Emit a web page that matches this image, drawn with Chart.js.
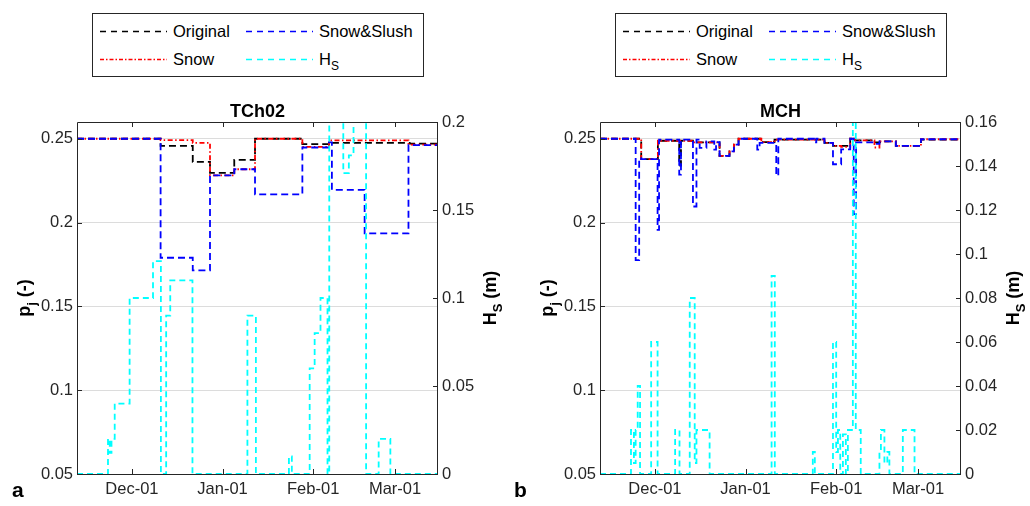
<!DOCTYPE html>
<html>
<head>
<meta charset="utf-8">
<script src="https://cdn.jsdelivr.net/npm/chart.js@4.4.1/dist/chart.umd.min.js"></script>
<style>
  body { margin: 0; background: #fff; font-family: "Liberation Sans", Arial, sans-serif; }
  #wrap { position: relative; width: 1030px; height: 506px; overflow: hidden; background: #fff; }
  .panel { position: absolute; top: 0; }
  .legend { position: absolute; top: 13px; width: 332px; height: 64px; border: 1px solid #262626;
            box-sizing: border-box; background: #fff; font-size: 16.5px; color: #000; }
  .item { position: absolute; height: 20px; line-height: 20px; }
  .item svg { position: absolute; left: 0; top: 0; }
  .item span { position: absolute; left: 73px; top: 0; white-space: nowrap; }
  .item sub { font-size: 12px; vertical-align: -5px; line-height: 0; }
  .tag { position: absolute; top: 478px; font-weight: bold; font-size: 21px; color: #000; }
</style>
</head>
<body>
<div id="wrap">
  <canvas id="chartTCh02" class="panel" width="515" height="506" style="left:0"></canvas>
  <canvas id="chartMCH" class="panel" width="515" height="506" style="left:515px"></canvas>
  <div id="legendTCh02" class="legend" style="left:92px"></div>
  <div id="legendMCH" class="legend" style="left:615px"></div>
  <div class="tag" style="left:12px">a</div>
  <div class="tag" style="left:514px">b</div>
</div>
<script>
const FONT = '"Liberation Sans", Arial, sans-serif';

// x axis: days since 1 Dec
const xMin = -18.8;
const xMax = 104.7;
const monthTickDays = [0, 31, 62, 90];
const monthTickLabels = ["Dec-01", "Jan-01", "Feb-01", "Mar-01"];

const pjTicks = [0.05, 0.1, 0.15, 0.2, 0.25];
const tchHsTicks = [0, 0.05, 0.1, 0.15, 0.2];
const mchHsTicks = [0, 0.02, 0.04, 0.06, 0.08, 0.1, 0.12, 0.14, 0.16];

// [day, value] step points, value holds from that day on
const tch02Original = [[-18.8, 0.25], [9.8, 0.2458], [20.8, 0.2362], [26.7, 0.2296], [35, 0.2374],
  [42.1, 0.25], [58.3, 0.2468], [67.4, 0.2476], [95, 0.2471], [104.7, 0.2471]];
const tch02Snow = [[-18.8, 0.25], [9.8, 0.2492], [20.8, 0.2476], [26.7, 0.2282], [35, 0.2318],
  [42.1, 0.25], [58.3, 0.2452], [67.4, 0.249], [94.6, 0.2465], [104.7, 0.2465]];
const tch02SnowSlush = [[-18.8, 0.25], [9.8, 0.179], [20.8, 0.1715], [26.7, 0.2282], [35, 0.2318],
  [42.1, 0.2168], [58.3, 0.2448], [67.4, 0.2478], [68.4, 0.2195], [79.6, 0.1935], [94.6, 0.2462],
  [104.7, 0.2462]];
const tch02Hs = [[-18.8, 0], [-8.2, 0.02], [-7.6, 0.012], [-7.0, 0.02], [-5.9, 0.04], [-0.8, 0.1],
  [7.2, 0.121], [9.9, 0], [11.7, 0.09], [13.1, 0.11], [20.7, 0], [39.5, 0.09], [42.4, 0],
  [53.7, 0.01], [54.7, 0], [60.8, 0.06], [62.5, 0.08], [64.5, 0.1], [66.9, 0], [67.5, 0.21],
  [69.5, 0.2], [72.3, 0.171], [74.2, 0.181], [75.8, 0.21], [80.1, 0], [84.4, 0.02], [88.4, 0],
  [104.7, 0]];

const mchOriginal = [[-18.8, 0.25], [-4.7, 0.2378], [1.0, 0.2488], [8.3, 0.2340], [8.9, 0.2488],
  [13, 0.2478], [22.1, 0.2398], [25.5, 0.2425], [27, 0.2465], [28.6, 0.25], [36.4, 0.248],
  [40.9, 0.2495], [58, 0.2475], [60.9, 0.2458], [66.8, 0.25], [68.5, 0.249], [75.1, 0.2478],
  [77, 0.2485], [82.4, 0.2458], [91, 0.2495], [104.7, 0.2495]];
const mchSnow = [[-18.8, 0.25], [-4.7, 0.2378], [1.0, 0.2488], [13, 0.2478], [22.1, 0.2398],
  [25.5, 0.2425], [27, 0.2465], [28.6, 0.25], [36.4, 0.248], [40.9, 0.2495], [58, 0.2475],
  [60.9, 0.2458], [63.7, 0.2452], [66.8, 0.25], [68.5, 0.249], [75.1, 0.2448], [76.8, 0.2485],
  [82.4, 0.2458], [91, 0.2497], [104.7, 0.2497]];
const mchSnowSlush = [[-18.8, 0.25], [-6.6, 0.1776], [-5.4, 0.2385], [-4.7, 0.2378], [0.9, 0.1956],
  [1.4, 0.2495], [8.3, 0.2286], [8.9, 0.2495], [13.0, 0.2096], [14.2, 0.2495], [15.3, 0.2446],
  [17.6, 0.2485], [20.3, 0.2435], [20.9, 0.248], [22.1, 0.2398], [25.5, 0.2425], [27, 0.2465],
  [28.6, 0.25], [35.0, 0.2435], [35.8, 0.2475], [41.5, 0.228], [42.2, 0.25], [54.4, 0.2478],
  [55.2, 0.25], [58, 0.2475], [60.9, 0.2348], [63.7, 0.2437], [66.8, 0.25], [68.0, 0.205],
  [68.8, 0.2478], [75.1, 0.247], [76.8, 0.2485], [82.4, 0.2458], [91, 0.2497], [104.7, 0.2497]];
const mchHs = [[-18.8, 0], [-8.2, 0.02], [-7.2, 0.005], [-6.6, 0.02], [-5.9, 0.04], [-5.1, 0],
  [-1.3, 0.06], [0.9, 0], [6.9, 0.02], [8.4, 0], [11.9, 0.08], [13.6, 0.005], [14.2, 0.02],
  [18.7, 0], [39.9, 0.09], [41.0, 0], [54.0, 0.01], [54.7, 0], [60.9, 0.06], [62.0, 0.01],
  [62.6, 0.02], [63.4, 0], [64.3, 0.018], [65.3, 0], [66.0, 0.02], [67.7, 0.165], [68.7, 0.02],
  [70.4, 0], [76.8, 0.01], [77.3, 0.02], [78.5, 0.005], [79.5, 0.01], [80.2, 0], [84.8, 0.02],
  [88.8, 0], [104.7, 0]];

const seriesNames = ["Original", "Snow&Slush", "Snow", "H_S"];
const seriesColors = ["#000000", "#0000ff", "#ff0000", "#00ffff"];
const seriesDash = [[7, 4], [7, 4], [5, 2.5, 1.5, 2.5], [6, 4]];

const toXY = pts => pts.map(p => ({ x: p[0], y: p[1] }));
const fmt = v => String(Number(v.toFixed(3)));

function drawRotLabel(ctx, cx, cy, base, sub, rest, size) {
  ctx.save();
  ctx.translate(cx, cy);
  ctx.rotate(-Math.PI / 2);
  const big = `bold ${size}px ${FONT}`;
  const small = `bold ${Math.round(size * 0.72)}px ${FONT}`;
  ctx.font = big;
  const w1 = ctx.measureText(base).width;
  const w3 = ctx.measureText(rest).width;
  ctx.font = small;
  const w2 = ctx.measureText(sub).width;
  const x0 = -(w1 + w2 + w3) / 2;
  const by = size * 0.35;
  ctx.fillStyle = "#000";
  ctx.textAlign = "left";
  ctx.textBaseline = "alphabetic";
  ctx.font = big;
  ctx.fillText(base, x0, by);
  ctx.font = small;
  ctx.fillText(sub, x0 + w1, by + size * 0.3);
  ctx.font = big;
  ctx.fillText(rest, x0 + w1 + w2, by);
  ctx.restore();
}

const boxPlugin = {
  id: "matlabBox",
  afterDraw(chart, args, opts) {
    const ctx = chart.ctx;
    const a = chart.chartArea;
    const { x, yL, yR } = chart.scales;
    ctx.save();
    ctx.strokeStyle = "#262626";
    ctx.lineWidth = 1;
    ctx.beginPath();
    ctx.rect(Math.round(a.left) + 0.5, Math.round(a.top) + 0.5,
      Math.round(a.right - a.left) - 1, Math.round(a.bottom - a.top));
    x.ticks.forEach(t => {
      const px = Math.round(x.getPixelForValue(t.value)) + 0.5;
      ctx.moveTo(px, a.bottom); ctx.lineTo(px, a.bottom - 5);
      ctx.moveTo(px, a.top); ctx.lineTo(px, a.top + 5);
    });
    yL.ticks.forEach(t => {
      const py = Math.round(yL.getPixelForValue(t.value)) + 0.5;
      ctx.moveTo(a.left, py); ctx.lineTo(a.left + 5, py);
    });
    yR.ticks.forEach(t => {
      const py = Math.round(yR.getPixelForValue(t.value)) + 0.5;
      ctx.moveTo(a.right, py); ctx.lineTo(a.right - 5, py);
    });
    ctx.stroke();

    ctx.fillStyle = "#000";
    ctx.font = `bold 18px ${FONT}`;
    ctx.textAlign = "center";
    ctx.textBaseline = "middle";
    ctx.fillText(opts.title, (a.left + a.right) / 2, 112);
    ctx.restore();

    const cy = (a.top + a.bottom) / 2;
    drawRotLabel(ctx, opts.leftTitleX, cy, "p", "j", " (-)", 18);
    drawRotLabel(ctx, opts.rightTitleX, cy, "H", "S", " (m)", 18);
  }
};

function makeChart(id, title, original, snow, slush, hs, hsTicks, leftW, rightW, leftTitleX, rightTitleX) {
  const tickFont = { family: FONT, size: 16.5 };
  return new Chart(document.getElementById(id), {
    type: "line",
    data: {
      datasets: [
        { label: "H_S", data: toXY(hs), yAxisID: "yR", borderColor: seriesColors[3],
          borderDash: seriesDash[3], order: 0 },
        { label: "Snow&Slush", data: toXY(slush), yAxisID: "yL", borderColor: seriesColors[1],
          borderDash: seriesDash[1], order: 1 },
        { label: "Snow", data: toXY(snow), yAxisID: "yL", borderColor: seriesColors[2],
          borderDash: seriesDash[2], order: 2 },
        { label: "Original", data: toXY(original), yAxisID: "yL", borderColor: seriesColors[0],
          borderDash: seriesDash[0], order: 3 }
      ].map(d => Object.assign(d, { stepped: true, borderWidth: 1.8, pointRadius: 0, fill: false }))
    },
    options: {
      responsive: false,
      animation: false,
      layout: { padding: { top: 122, left: 0, right: 0, bottom: 0 } },
      plugins: {
        legend: { display: false },
        tooltip: { enabled: false },
        matlabBox: { title, leftTitleX, rightTitleX }
      },
      scales: {
        x: {
          type: "linear", min: xMin, max: xMax,
          afterBuildTicks: s => { s.ticks = monthTickDays.map(v => ({ value: v })); },
          afterFit: s => { s.height = 32; },
          ticks: { callback: v => monthTickLabels[monthTickDays.indexOf(v)], font: tickFont,
                   color: "#262626", padding: 6, maxRotation: 0, autoSkip: false },
          grid: { display: false, drawTicks: false },
          border: { display: false }
        },
        yL: {
          position: "left", min: 0.05, max: 0.26,
          afterBuildTicks: s => { s.ticks = pjTicks.map(v => ({ value: v })); },
          afterFit: s => { s.width = leftW; },
          ticks: { callback: fmt, font: tickFont, color: "#262626", padding: 4 },
          grid: { color: c => (c.tick && c.tick.value > 0.06 ? "#dcdcdc" : "rgba(0,0,0,0)"),
                  drawTicks: false, lineWidth: 1 },
          border: { display: false }
        },
        yR: {
          position: "right", min: 0, max: hsTicks[hsTicks.length - 1],
          afterBuildTicks: s => { s.ticks = hsTicks.map(v => ({ value: v })); },
          afterFit: s => { s.width = rightW; },
          ticks: { callback: fmt, font: tickFont, color: "#262626", padding: 4 },
          grid: { display: false, drawTicks: false },
          border: { display: false }
        }
      }
    },
    plugins: [boxPlugin]
  });
}

// legend box: Original, Snow&Slush / Snow, H_S
function buildLegend(id) {
  const box = document.getElementById(id);
  const slots = [[7, 7], [153, 7], [7, 35], [153, 35]];
  const legendDash = ["6 5", "6 5", "4 2 1.5 2", "6 5"];
  seriesNames.forEach((name, k) => {
    const it = document.createElement("div");
    it.className = "item";
    it.style.left = slots[k][0] + "px";
    it.style.top = slots[k][1] + "px";
    const text = name === "H_S" ? "H<sub>S</sub>" : name.replace("&", "&amp;");
    it.innerHTML = `<svg width="67" height="20"><line x1="0" y1="10.5" x2="67" y2="10.5"
      stroke="${seriesColors[k]}" stroke-width="1.6" stroke-dasharray="${legendDash[k]}"/></svg>
      <span>${text}</span>`;
    box.appendChild(it);
  });
}

makeChart("chartTCh02", "TCh02", tch02Original, tch02Snow, tch02SnowSlush, tch02Hs, tchHsTicks,
  77, 77, 24, 490);
makeChart("chartMCH", "MCH", mchOriginal, mchSnow, mchSnowSlush, mchHs, mchHsTicks,
  85, 69, 32, 498);
buildLegend("legendTCh02");
buildLegend("legendMCH");
</script>
</body>
</html>
